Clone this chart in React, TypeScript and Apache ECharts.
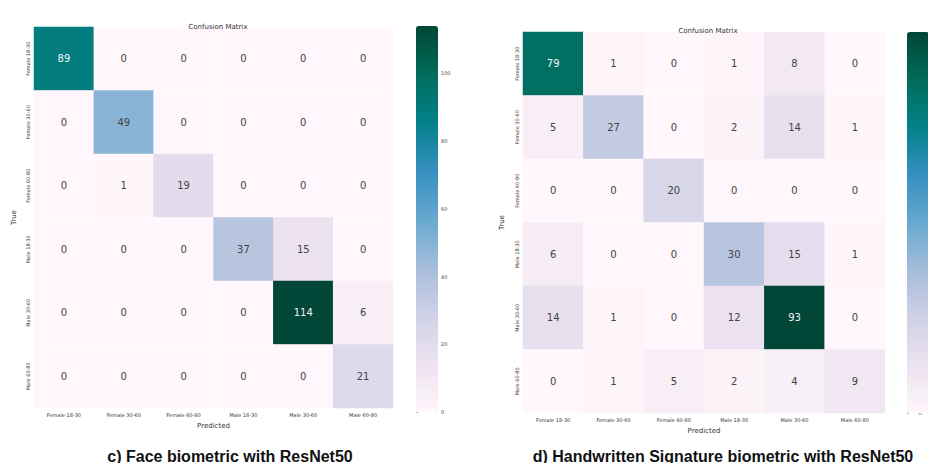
import React, { useEffect, useRef } from "react";
import * as echarts from "echarts";

// Age / gender classes used on both axes of each confusion matrix
const CLASSES = [
  "Female 18-30",
  "Female 30-60",
  "Female 60-80",
  "Male 18-30",
  "Male 30-60",
  "Male 60-80",
];

// Rows = true class, columns = predicted class
const FACE_MATRIX = [
  [89, 0, 0, 0, 0, 0],
  [0, 49, 0, 0, 0, 0],
  [0, 1, 19, 0, 0, 0],
  [0, 0, 0, 37, 15, 0],
  [0, 0, 0, 0, 114, 6],
  [0, 0, 0, 0, 0, 21],
];

const SIGNATURE_MATRIX = [
  [79, 1, 0, 1, 8, 0],
  [5, 27, 0, 2, 14, 1],
  [0, 0, 20, 0, 0, 0],
  [6, 0, 0, 30, 15, 1],
  [14, 1, 0, 12, 93, 0],
  [0, 1, 5, 2, 4, 9],
];

const PANEL_CAPTIONS = [
  "c) Face biometric with ResNet50",
  "d) Handwritten Signature biometric with ResNet50",
];

// seaborn "PuBuGn" sequential palette
const PUBUGN = [
  "#fff7fb",
  "#ece2f0",
  "#d0d1e6",
  "#a6bddb",
  "#67a9cf",
  "#3690c0",
  "#02818a",
  "#016c59",
  "#014636",
];

const FONT = "DejaVu Sans, sans-serif";
const CAPTION_FONT = "Liberation Sans, Arial, sans-serif";

function toCells(matrix: number[][]) {
  const max = Math.max(...matrix.flat());
  const cells: any[] = [];
  matrix.forEach((row, r) =>
    row.forEach((v, c) => {
      cells.push({
        value: [c, r, v],
        label: { color: v / max > 0.6 ? "#f2f7f7" : "#444444" },
      });
    })
  );
  return { cells, max };
}

export default function App() {
  const ref = useRef<HTMLDivElement>(null);

  useEffect(() => {
    if (!ref.current) return;
    const chart = echarts.init(ref.current, null, { renderer: "svg" });

    const face = toCells(FACE_MATRIX);
    const sig = toCells(SIGNATURE_MATRIX);

    const panels = [
      { grid: { left: 34, top: 27, width: 359, height: 381 }, bar: { left: 416, top: 26, width: 22, height: 386 }, data: face, trueGap: 17 },
      { grid: { left: 523, top: 32, width: 362, height: 381 }, bar: { left: 907, top: 32, width: 22, height: 381 }, data: sig, trueGap: 18 },
    ];

    const catX = (gi: number) => ({
      type: "category",
      gridIndex: gi,
      data: CLASSES,
      axisLine: { show: false },
      axisTick: { show: false },
      splitLine: { show: false },
      axisLabel: { fontSize: 5, color: "#333", interval: 0, margin: 4, fontFamily: FONT },
      name: "Predicted",
      nameLocation: "middle",
      nameGap: 14,
      nameTextStyle: { fontSize: 7, color: "#333", fontFamily: FONT },
    });

    const catY = (gi: number, gap: number) => ({
      type: "category",
      gridIndex: gi,
      data: CLASSES,
      inverse: true,
      axisLine: { show: false },
      axisTick: { show: false },
      splitLine: { show: false },
      axisLabel: { fontSize: 5, color: "#333", interval: 0, rotate: 90, margin: 4, fontFamily: FONT },
      name: "True",
      nameLocation: "middle",
      nameGap: gap,
      nameRotate: 90,
      nameTextStyle: { fontSize: 7, color: "#333", fontFamily: FONT },
    });

    const barX = (gi: number) => ({ type: "value", gridIndex: gi, show: false, min: 0, max: 1 });
    const barY = (gi: number, max: number) => ({
      type: "value",
      gridIndex: gi,
      min: 0,
      max,
      interval: 20,
      position: "right",
      axisLine: { show: false },
      axisTick: { show: true, length: 2, lineStyle: { color: "#666", width: 0.5 } },
      splitLine: { show: false },
      axisLabel: {
        fontSize: 5,
        color: "#444",
        margin: 3,
        fontFamily: FONT,
        showMaxLabel: false,
      },
    });

    chart.setOption({
      animation: false,
      backgroundColor: "#ffffff",
      title: [
        { text: "Confusion Matrix", left: 213, top: 18, textAlign: "center", textStyle: { fontSize: 7, fontWeight: "normal", color: "#333", fontFamily: FONT } },
        { text: "Confusion Matrix", left: 703, top: 22, textAlign: "center", textStyle: { fontSize: 7, fontWeight: "normal", color: "#333", fontFamily: FONT } },
        { text: PANEL_CAPTIONS[0], left: 225, top: 443, textAlign: "center", textStyle: { fontSize: 16, fontWeight: "bold", color: "#111", fontFamily: CAPTION_FONT } },
        { text: PANEL_CAPTIONS[1], left: 718, top: 443, textAlign: "center", textStyle: { fontSize: 16, fontWeight: "bold", color: "#111", fontFamily: CAPTION_FONT } },
      ],
      grid: [
        panels[0].grid,
        panels[1].grid,
        panels[0].bar,
        panels[1].bar,
      ],
      xAxis: [catX(0), catX(1), barX(2), barX(3)],
      yAxis: [catY(0, panels[0].trueGap), catY(1, panels[1].trueGap), barY(2, face.max), barY(3, sig.max)],
      visualMap: panels.map((p, i) => ({
        type: "continuous",
        seriesIndex: i,
        min: 0,
        max: p.data.max,
        calculable: false,
        hoverLink: false,
        orient: "vertical",
        left: p.bar.left,
        top: p.bar.top,
        itemWidth: p.bar.width,
        itemHeight: p.bar.height,
        padding: 0,
        showLabel: false,
        inRange: { color: PUBUGN },
      })),
      series: [
        ...panels.map((p, i) => ({
          type: "heatmap",
          xAxisIndex: i,
          yAxisIndex: i,
          data: p.data.cells,
          label: { show: true, fontSize: 10, fontFamily: FONT },
          itemStyle: { borderWidth: 0 },
          emphasis: { disabled: true },
        })),
        { type: "scatter", xAxisIndex: 2, yAxisIndex: 2, data: [], silent: true },
        { type: "scatter", xAxisIndex: 3, yAxisIndex: 3, data: [], silent: true },
      ],
    });

    return () => chart.dispose();
  }, []);

  return (
    <div
      ref={ref}
      style={{ position: "absolute", left: 0, top: 0, width: 928, height: 463 }}
    />
  );
}
